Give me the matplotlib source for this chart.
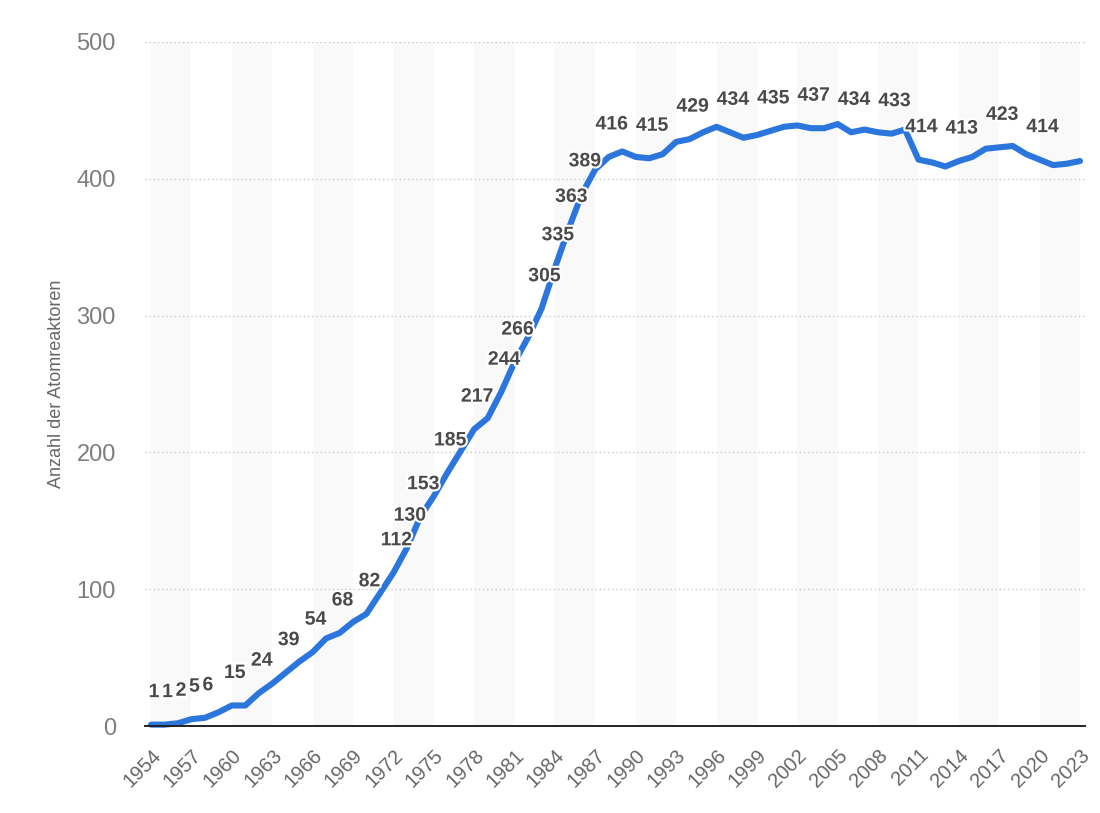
import matplotlib
matplotlib.use("Agg")
import matplotlib.pyplot as plt
import matplotlib.patheffects as pe

years = list(range(1954, 2024))
reactors = [1, 1, 2, 5, 6, 10, 15, 15, 24, 31,
            39, 47, 54, 64, 68, 76, 82, 97, 112, 130,
            153, 168, 185, 201, 217, 225, 244, 266, 284, 305,
            335, 363, 389, 407, 416, 420, 416, 415, 418, 427,
            429, 434, 438, 434, 430, 432, 435, 438, 439, 437,
            437, 440, 434, 436, 434, 433, 436, 414, 412, 409,
            413, 416, 422, 423, 424, 418, 414, 410, 411, 413]
labeled_years = [1954, 1955, 1956, 1957, 1958, 1960, 1962, 1964, 1966, 1968,
                 1970, 1972, 1973, 1974, 1976, 1978, 1980, 1981, 1983, 1984,
                 1985, 1986, 1988, 1991, 1994, 1997, 2000, 2003, 2006, 2009,
                 2011, 2014, 2017, 2020]
tick_years = list(range(1954, 2024, 3))
y_ticks = [0, 100, 200, 300, 400, 500]
y_label = "Anzahl der Atomreaktoren"

plt.rcParams['font.family'] = ['Liberation Sans', 'DejaVu Sans']

fig = plt.figure(figsize=(11, 8.13), dpi=100)
ax = fig.add_axes([145/1100, 1-726/813, 940/1100, 684/813])

# alternating bands
for start in range(1954, 2024, 6):
    ax.axvspan(start, min(start + 3, 2023), color='#f9f9f9', zorder=0, lw=0)

for yv in y_ticks[1:]:
    ax.axhline(yv, color='#c8c8c8', lw=1, ls=(0, (1, 2)), zorder=1)

ax.plot(years, reactors, color='#2a76dd', lw=4.4, solid_joinstyle='round',
        solid_capstyle='round', zorder=3, clip_on=False)

val = dict(zip(years, reactors))
for yr in labeled_years:
    ax.annotate(str(val[yr]), (yr, val[yr]), xytext=(3, 32), textcoords='offset pixels',
                ha='center', va='center', fontsize=14, fontweight='bold', color='#4a4a4a',
                zorder=5,
                path_effects=[pe.withStroke(linewidth=3, foreground='white')])

ax.set_xlim(1953.55, 2023.37)
ax.set_ylim(0, 500)
ax.set_yticks(y_ticks)
ax.set_yticklabels([str(v) for v in y_ticks], fontsize=17, color='#7d7d7d')
ax.set_xticks(tick_years)
ax.set_xticklabels([str(v) for v in tick_years], rotation=45, ha='right',
                   rotation_mode='anchor', fontsize=14.5, color='#666666')
ax.tick_params(axis='both', length=0)
ax.tick_params(axis='y', pad=21)
ax.tick_params(axis='x', pad=14)

for s in ['top', 'right', 'left']:
    ax.spines[s].set_visible(False)
ax.spines['bottom'].set_color('#222222')
ax.spines['bottom'].set_linewidth(1.4)
ax.spines['bottom'].set_zorder(4)

ax.set_ylabel(y_label, fontsize=13, color='#666666')
ax.yaxis.set_label_coords(-0.085, 0.5)

fig.savefig("out.png", dpi=100)
